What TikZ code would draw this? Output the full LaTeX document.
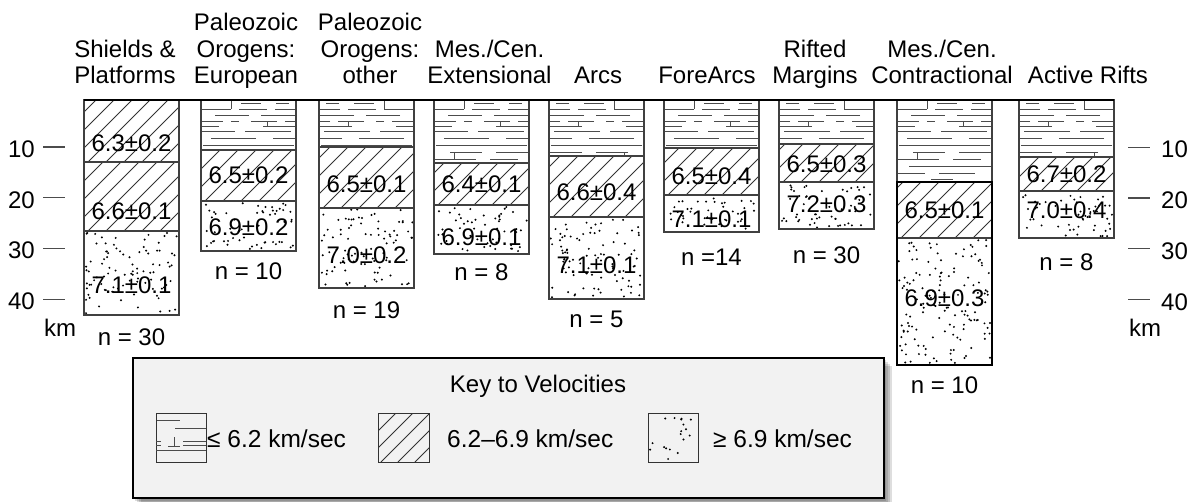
\documentclass[tikz,border=0pt]{standalone}
\usepackage{fontspec}
\setmainfont{Liberation Sans}
\tikzset{
  txt/.style={font=\fontsize{24}{28}\selectfont, inner sep=0pt, anchor=base},
  keytxt/.style={font=\fontsize{24.5}{28}\selectfont, inner sep=0pt, anchor=base west},
  frame/.style={draw=black!75, line width=1.3pt},
  lv/.style={draw=black!70, line width=0.9pt},
  hl/.style={draw=black!80, line width=0.9pt},
  dotc/.style={fill=black},
  tickmark/.style={draw=black!70, line width=1.2pt},
}
\newcommand\lowlayer[4]{%
  \begin{scope}
    \clip (#1,#2) rectangle (#1+95,#3);
    \begin{scope}[shift={(#1,#2)}, xshift={95*#4}, xscale={1-2*#4}]
      \foreach \dy/\xa/\xb in {3/40/60, 3/75/88,
        9/0/30, 9/38/66, 9/74/95,
        15/14/48, 15/60/95,
        21/0/22, 21/30/38, 21/50/76, 21/84/95,
        26/0/18, 26/62/95,
        31/0/34, 31/44/90,
        38/10/55, 38/72/95,
        45/2/93,
        52/16/48, 52/62/95,
        59/0/42, 59/56/84,
        66/12/95,
        73/0/28, 73/42/78,
        79/34/56}
        \draw[lv] (\xa,\dy) -- (\xb,\dy);
      \foreach \xa/\ya/\yb in {30/0/9, 66/21/27, 20/52/59}
        \draw[lv] (\xa,\ya) -- (\xa,\yb);
    \end{scope}
  \end{scope}}
\newcommand\hatchlayer[3]{%
  \begin{scope}
    \clip (#1,#2) rectangle (#1+95,#3);
    \foreach \k in {-6,...,6}
      \draw[hl] ({#1+\k*18+4},#3) -- ++(110,-110);
  \end{scope}}
\newcommand\dotlayer[4]{%
  \begin{scope}
    \pgfmathsetseed{#4}
    \pgfmathtruncatemacro\ndots{95*(#3-#2)/85}
    \foreach \i in {1,...,\ndots}
      \fill[dotc] ({#1+1.5+92*rnd},{#2+1.5+(#3-#2-3)*rnd}) circle (1.1pt);
  \end{scope}}
\newcommand\stratcol[6]{%
  \lowlayer{#1}{100}{#2}{#5}
  \hatchlayer{#1}{#2}{#3}
  \dotlayer{#1}{#3}{#4}{#6}
  \draw[frame] (#1,100) rectangle (#1+95,#4);
  \draw[frame] (#1,#2) -- (#1+95,#2) (#1,#3) -- (#1+95,#3);}
\begin{document}
\begin{tikzpicture}[x=1pt,y=-1pt]
\useasboundingbox (0,0) rectangle (1200,501);

% ---- column 1 (Shields & Platforms)
\hatchlayer{84}{100}{162}
\hatchlayer{84}{162}{231}
\dotlayer{84}{231}{315}{11}
\draw[frame] (84,100) rectangle (179,315);
\draw[frame] (84,162) -- (179,162) (84,231) -- (179,231);

% ---- columns 2-9
\stratcol{201}{150}{201}{251}{0}{12}
\stratcol{319}{147}{208}{288}{1}{13}
\stratcol{434}{163}{205}{254}{0}{14}
\stratcol{549}{156}{217}{299}{1}{15}
\stratcol{664}{148}{195}{232}{0}{16}
\stratcol{779}{144}{182}{229}{1}{17}
\stratcol{897}{182}{238}{365}{0}{18}
\stratcol{1019}{157}{191}{238}{1}{19}
\draw[line width=2.4pt] (897,182) rectangle (992,365);

% top line
\draw[line width=2pt] (84,100) -- (1114,100);

% ---- headers
\node[txt] (h1a) at (125,57) {Shields \&};
\node[txt] (h1b) at (125,83) {Platforms};
\node[txt] (h2a) at (246,30) {Paleozoic};
\node[txt] (h2b) at (246,57) {Orogens:};
\node[txt] (h2c) at (246,83) {European};
\node[txt] (h3a) at (370,30) {Paleozoic};
\node[txt] (h3b) at (370,57) {Orogens:};
\node[txt] (h3c) at (370,83) {other};
\node[txt] (h4a) at (489.5,57) {Mes./Cen.};
\node[txt] (h4b) at (489.5,83) {Extensional};
\node[txt] (h5) at (598,83) {Arcs};
\node[txt] (h6) at (707,83) {ForeArcs};
\node[txt] (h7a) at (815,57) {Rifted};
\node[txt] (h7b) at (815,83) {Margins};
\node[txt] (h8a) at (942,57) {Mes./Cen.};
\node[txt] (h8b) at (942,83) {Contractional};
\node[txt] (h9) at (1088,83) {Active Rifts};

% ---- values
\node[txt] (v1a) at (131.5,151.7) {6.3±0.2};
\node[txt] (v1b) at (131.5,219) {6.6±0.1};
\node[txt] (v1c) at (131.5,293) {7.1±0.1};
\node[txt] (v2a) at (248.5,183) {6.5±0.2};
\node[txt] (v2b) at (248.5,235) {6.9±0.2};
\node[txt] (v3a) at (366.5,192) {6.5±0.1};
\node[txt] (v3b) at (366.5,263) {7.0±0.2};
\node[txt] (v4a) at (481.5,192) {6.4±0.1};
\node[txt] (v4b) at (481.5,245) {6.9±0.1};
\node[txt] (v5a) at (596.5,200) {6.6±0.4};
\node[txt] (v5b) at (596.5,273) {7.1±0.1};
\node[txt] (v6a) at (711.5,184) {6.5±0.4};
\node[txt] (v6b) at (711.5,227) {7.1±0.1};
\node[txt] (v7a) at (826.5,172) {6.5±0.3};
\node[txt] (v7b) at (826.5,212) {7.2±0.3};
\node[txt] (v8a) at (944.5,218) {6.5±0.1};
\node[txt] (v8b) at (944.5,306) {6.9±0.3};
\node[txt] (v9a) at (1066.5,182) {6.7±0.2};
\node[txt] (v9b) at (1066.5,218) {7.0±0.4};

% ---- sample counts
\node[txt] (n1) at (131.5,345) {n = 30};
\node[txt] (n2) at (248.5,279) {n = 10};
\node[txt] (n3) at (366.5,318) {n = 19};
\node[txt] (n4) at (481.5,280) {n = 8};
\node[txt] (n5) at (596.5,327) {n = 5};
\node[txt] (n6) at (711.5,265) {n =14};
\node[txt] (n7) at (826.5,263) {n = 30};
\node[txt] (n8) at (944.5,393) {n = 10};
\node[txt] (n9) at (1066.5,270) {n = 8};

% ---- depth axes
\foreach \d/\y in {10/147,20/197.5,30/248.3,40/299.2}{
  \draw[tickmark] (43,\y) -- (65,\y);
  \draw[tickmark] (1128,\y+0.5) -- (1150,\y+0.5);
  \node[txt, anchor=base east] (l\d) at (35,\y+10.5) {\d};
  \node[txt, anchor=base west] (r\d) at (1161,\y+10.8) {\d};
}
\node[txt] (kml) at (60,336.5) {km};
\node[txt] (kmr) at (1145,336.5) {km};

% ---- key
\foreach \d in {2,4,6,8}
  \fill[black, opacity=0.13] (133+\d,358+\d) rectangle (884+\d,499+\d);
\draw[fill=black!5, line width=1.5pt] (133,358) rectangle (884,498);
\node[txt] (keytitle) at (538,392) {Key to Velocities};

% swatch 1
\draw[line width=0.9pt, black!80] (156,413) rectangle (206,462);
\begin{scope}[shift={(156,413)}]
  \foreach \ya/\xa/\xb in {7/1/24, 15/19/50, 28/0/5, 32/0/5, 33/12/24, 28/27/50, 32/27/50, 37/0/50}
    \draw[lv] (\xa,\ya) -- (\xb,\ya);
  \draw[lv] (18,24) -- (18,33);
\end{scope}
\node[keytxt] (k1) at (207,447) {≤ 6.2 km/sec};

% swatch 2
\begin{scope}
  \clip (378,413) rectangle (429,462);
  \foreach \k in {-3,...,3}
    \draw[hl] ({378+\k*17+3},462) -- ++(60,-60);
\end{scope}
\draw[line width=0.9pt, black!80] (378,413) rectangle (429,462);
\node[keytxt] (k2) at (447,447) {6.2–6.9 km/sec};

% swatch 3
\begin{scope}
  \pgfmathsetseed{77}
  \foreach \i in {1,...,18}
    \fill[dotc] ({649.5+47*rnd},{414.5+46*rnd}) circle (1.1pt);
\end{scope}
\draw[line width=0.9pt, black!80] (648,413) rectangle (698,462);
\node[keytxt] (k3) at (713,447) {≥ 6.9 km/sec};
\end{tikzpicture}
\end{document}
